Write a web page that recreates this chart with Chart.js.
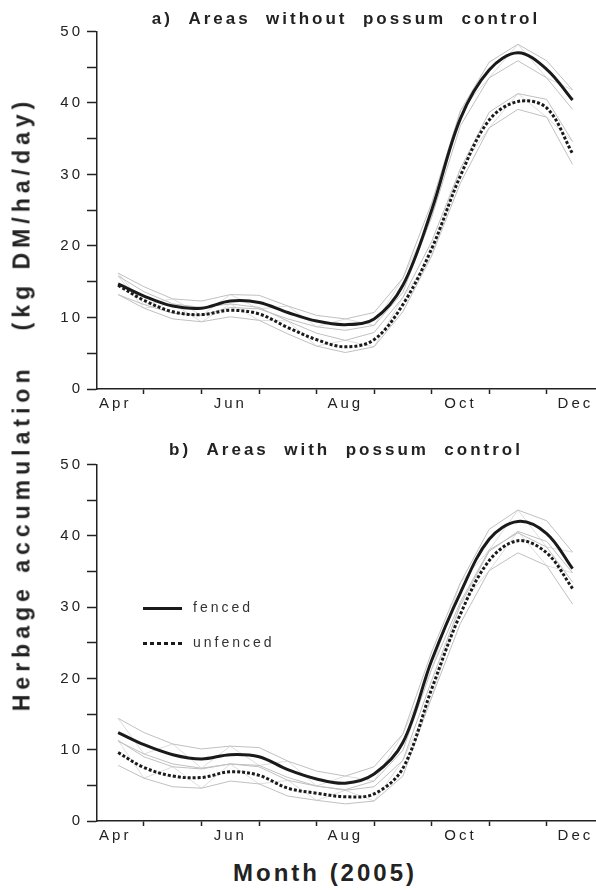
<!DOCTYPE html>
<html>
<head>
<meta charset="utf-8">
<script src="https://cdn.jsdelivr.net/npm/chart.js@4.4.0/dist/chart.umd.min.js"></script>
<style>
  body { margin: 0; background: #fff; }
  #page { position: relative; width: 596px; height: 890px; overflow: hidden;
          font-family: "Liberation Sans", Arial, sans-serif; color: #222; }
  #chart-a { position: absolute; left: 0; top: 0; }
  #chart-b { position: absolute; left: 0; top: 430px; }
  .axis-title { position: absolute; font-weight: bold; white-space: pre; }
  #y-title { left: 22px; top: 404px; font-size: 23px; letter-spacing: 5px;
             transform: translate(-50%, -50%) rotate(-90deg); }
  #x-title { left: 325px; top: 873px; font-size: 24px; letter-spacing: 3px;
             transform: translate(-50%, -50%); }
</style>
</head>
<body>
<div id="page">
  <canvas id="chart-a" width="596" height="420"></canvas>
  <canvas id="chart-b" width="596" height="422"></canvas>
  <div id="y-title" class="axis-title">Herbage accumulation   (kg DM/ha/day)</div>
  <div id="x-title" class="axis-title">Month (2005)</div>
</div>
<script>
/* global Chart */

// x is in months, 0 = 1 April 2005
var months = [0.55, 1, 1.5, 2, 2.5, 3, 3.5, 4, 4.5, 5, 5.5, 6, 6.5, 7, 7.5, 8, 8.45];
var monthLabels = ["Apr", "Jun", "Aug", "Oct", "Dec"];
var labelAt = [0.5, 2.5, 4.5, 6.5, 8.5];
var monthBounds = [1, 2, 3, 4, 5, 6, 7, 8];

// a) areas without possum control
var fencedA     = [14.7, 13.0, 11.6, 11.3, 12.3, 12.1, 10.7, 9.5, 9.0, 9.8, 14.5, 25.0, 37.8, 44.6, 47.0, 44.7, 40.4];
var fencedAUp   = [16.2, 14.3, 12.6, 12.3, 13.2, 13.1, 11.6, 10.3, 9.8, 10.7, 15.5, 26.0, 38.9, 45.7, 48.2, 45.9, 41.8];
var fencedALow  = [13.2, 11.8, 10.6, 10.3, 11.4, 11.2, 9.8, 8.7, 8.2, 8.9, 13.5, 24.0, 36.8, 43.5, 45.9, 43.5, 39.1];
var unfencedA    = [14.5, 12.4, 10.8, 10.4, 11.0, 10.5, 8.6, 6.9, 5.9, 6.9, 11.8, 19.6, 29.8, 37.6, 40.2, 39.3, 32.9];
var unfencedAUp  = [15.8, 13.6, 11.9, 11.4, 11.9, 11.4, 9.5, 7.8, 6.8, 7.9, 12.8, 20.6, 30.8, 38.7, 41.3, 40.5, 34.6];
var unfencedALow = [13.2, 11.3, 9.8, 9.4, 10.1, 9.6, 7.7, 6.0, 5.1, 5.9, 10.8, 18.6, 28.8, 36.5, 39.1, 38.0, 31.4];

// b) areas with possum control
var fencedB     = [12.4, 10.7, 9.3, 8.7, 9.3, 9.0, 7.2, 5.9, 5.3, 6.6, 11.0, 22.5, 32.0, 39.5, 42.0, 40.3, 35.4];
var fencedBUp   = [14.4, 12.4, 10.8, 10.1, 10.5, 10.3, 8.4, 7.0, 6.3, 7.6, 12.2, 23.7, 33.4, 40.9, 43.6, 42.1, 37.7];
var fencedBLow  = [11.2, 9.4, 8.0, 7.4, 8.0, 7.8, 6.1, 4.9, 4.4, 5.6, 9.9, 21.3, 30.7, 38.0, 40.4, 38.4, 33.5];
var unfencedB    = [9.6, 7.5, 6.3, 6.1, 6.9, 6.4, 4.6, 3.9, 3.4, 3.8, 7.4, 18.5, 29.0, 36.5, 39.3, 37.6, 32.6];
var unfencedBUp  = [11.3, 9.0, 7.6, 7.3, 8.0, 7.6, 5.7, 4.9, 4.3, 4.8, 8.5, 19.7, 30.3, 37.8, 40.6, 39.2, 34.8];
var unfencedBLow = [7.8, 6.0, 4.8, 4.6, 5.6, 5.2, 3.5, 2.9, 2.4, 2.8, 6.3, 17.3, 27.7, 35.1, 37.6, 35.8, 30.4];

var ink = "#1a1a1a";
var bandColor = "#c0c0c0";
var meshColor = "#d4d4d4";
var fontFamily = "'Liberation Sans', Arial, sans-serif";

function points(values) {
  return months.map(function(m, i) { return { x: m, y: values[i] }; });
}

// zigzag between the upper and lower bound, gives the mesh look of the bands
function mesh(up, low) {
  return months.map(function(m, i) { return { x: m, y: i % 2 ? low[i] : up[i] }; });
}

function mainLine(values, dashed) {
  return {
    data: points(values), borderColor: ink, borderWidth: 3, borderDash: dashed ? [3, 2] : [],
    pointRadius: 0, tension: 0.35, fill: false
  };
}

function thinLine(data, color, width) {
  return { data: data, borderColor: color, borderWidth: width, pointRadius: 0, tension: 0, fill: false };
}

var spacing = {
  id: "spacing",
  beforeUpdate: function(chart) { chart.ctx.letterSpacing = "3px"; },
  beforeDraw: function(chart) { chart.ctx.letterSpacing = "3px"; }
};

var keyBox = {
  id: "keyBox",
  afterDatasetsDraw: function(chart) {
    var ctx = chart.ctx;
    var area = chart.chartArea;
    var x0 = area.left + 46;
    var rows = [{ label: "fenced", dash: [], y: area.top + 144 },
                { label: "unfenced", dash: [4, 3], y: area.top + 179 }];
    ctx.save();
    ctx.strokeStyle = ink;
    ctx.lineWidth = 3;
    ctx.fillStyle = "#333";
    ctx.font = "14px " + fontFamily;
    ctx.textBaseline = "middle";
    rows.forEach(function(row) {
      ctx.setLineDash(row.dash);
      ctx.beginPath();
      ctx.moveTo(x0, row.y);
      ctx.lineTo(x0 + 39, row.y);
      ctx.stroke();
      ctx.fillText(row.label, x0 + 50, row.y);
    });
    ctx.restore();
  }
};

function drawPanel(canvasId, title, titlePad, f, fUp, fLow, u, uUp, uLow, plugins) {
  var datasets = [
    mainLine(f, false),
    mainLine(u, true),
    thinLine(points(fUp), bandColor, 1),
    thinLine(points(fLow), bandColor, 1),
    thinLine(points(uUp), bandColor, 1),
    thinLine(points(uLow), bandColor, 1),
    thinLine(mesh(fUp, fLow), meshColor, 0.8),
    thinLine(mesh(uUp, uLow), meshColor, 0.8)
  ];
  var tickFont = { family: fontFamily, size: 15 };

  new Chart(document.getElementById(canvasId).getContext("2d"), {
    type: "line",
    data: { datasets: datasets },
    plugins: [spacing].concat(plugins),
    options: {
      responsive: false,
      animation: false,
      layout: { padding: { left: 0, right: 1, top: 0, bottom: 0 } },
      plugins: {
        legend: { display: false },
        tooltip: { enabled: false },
        title: {
          display: true, text: title, fullSize: false, color: "#222",
          font: { family: fontFamily, size: 17, weight: "bold" },
          padding: titlePad
        }
      },
      scales: {
        x: {
          type: "linear", min: 0.183, max: 8.84,
          afterBuildTicks: function(scale) {
            scale.ticks = monthBounds.concat(labelAt).sort(function(a, b) { return a - b; })
              .map(function(v) { return { value: v }; });
          },
          afterFit: function(scale) { scale.height = 31; },
          ticks: {
            autoSkip: false, maxRotation: 0, minRotation: 0, padding: 1, color: "#222", font: tickFont,
            callback: function(value) {
              var i = labelAt.indexOf(value);
              return i >= 0 ? monthLabels[i] : "";
            }
          },
          grid: {
            drawOnChartArea: false, tickLength: 5, tickWidth: 1.5,
            tickColor: function(c) { return labelAt.indexOf(c.tick.value) >= 0 ? "rgba(0,0,0,0)" : "#222"; }
          },
          border: { color: "#222", width: 1.5 }
        },
        y: {
          min: 0, max: 50,
          afterFit: function(scale) { scale.width = 97; },
          ticks: {
            stepSize: 5, padding: 4, color: "#222", font: tickFont,
            callback: function(value) { return value % 10 === 0 ? value : ""; }
          },
          grid: { drawOnChartArea: false, tickLength: 10, tickWidth: 1.5, tickColor: "#222" },
          border: { color: "#222", width: 1.5 }
        }
      }
    }
  });
}

drawPanel("chart-a", "a)  Areas  without  possum  control", { top: 9, bottom: 2 },
  fencedA, fencedAUp, fencedALow, unfencedA, unfencedAUp, unfencedALow, []);
drawPanel("chart-b", "b)  Areas  with  possum  control", { top: 10, bottom: 4 },
  fencedB, fencedBUp, fencedBLow, unfencedB, unfencedBUp, unfencedBLow, [keyBox]);
</script>
</body>
</html>
